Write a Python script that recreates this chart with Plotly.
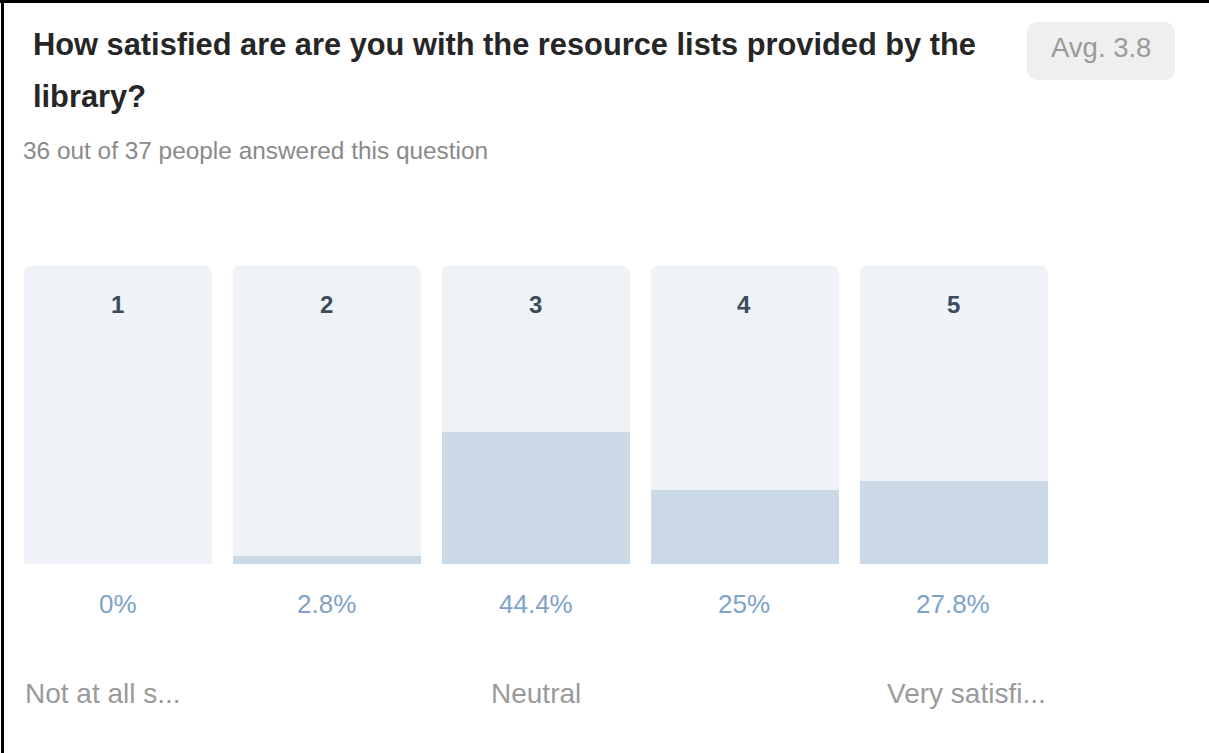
import plotly.graph_objects as go

categories = ["1", "2", "3", "4", "5"]
percents = [0, 2.8, 44.4, 25, 27.8]
percent_labels = ["0%", "2.8%", "44.4%", "25%", "27.8%"]
scale_labels = ["Not at all s...", "Neutral", "Very satisfi..."]
title_lines = ["How satisfied are are you with the resource lists provided by the", "library?"]
subtitle = "36 out of 37 people answered this question"
avg_text = "Avg. 3.8"
track_max = [100] * len(categories)

W, H = 1209, 753
FONT = "'Liberation Sans', Arial, sans-serif"

fig = go.Figure()
fig.add_trace(go.Bar(x=categories, y=track_max, marker=dict(color="#eff3f8", cornerradius=6, line=dict(width=0)),
                     width=0.9, hoverinfo="skip", showlegend=False))
fig.add_trace(go.Bar(x=categories, y=percents, marker=dict(color="#cbd9e7", cornerradius=4, line=dict(width=0)),
                     width=0.9, hoverinfo="skip", showlegend=False))


def px_x(p):
    return p / W


def py(p):
    return 1 - p / H


annotations = []
for i, c in enumerate(categories):
    annotations.append(dict(x=i, y=py(304), xref="x", yref="paper", text="<b>" + c + "</b>", showarrow=False,
                            font=dict(family=FONT, size=24, color="#3d4b5c"), xanchor="center", yanchor="middle"))
    annotations.append(dict(x=i, y=py(604), xref="x", yref="paper", text=percent_labels[i], showarrow=False,
                            font=dict(family=FONT, size=26, color="#7ea3c8"), xanchor="center", yanchor="middle"))

annotations += [
    dict(x=px_x(23), y=py(693), xref="paper", yref="paper", text=scale_labels[0], showarrow=False,
         font=dict(family=FONT, size=28, color="#9a9a9a"), xanchor="left", yanchor="middle"),
    dict(x=2, y=py(693), xref="x", yref="paper", text=scale_labels[1], showarrow=False,
         font=dict(family=FONT, size=28, color="#9a9a9a"), xanchor="center", yanchor="middle"),
    dict(x=px_x(1048), y=py(693), xref="paper", yref="paper", text=scale_labels[2], showarrow=False,
         font=dict(family=FONT, size=28, color="#9a9a9a"), xanchor="right", yanchor="middle"),
    dict(x=px_x(31), y=py(45), xref="paper", yref="paper", text="<b>" + title_lines[0] + "</b>", showarrow=False,
         font=dict(family=FONT, size=30.8, color="#262627"), xanchor="left", yanchor="middle"),
    dict(x=px_x(31), y=py(96), xref="paper", yref="paper", text="<b>" + title_lines[1] + "</b>", showarrow=False,
         font=dict(family=FONT, size=30.8, color="#262627"), xanchor="left", yanchor="middle"),
    dict(x=px_x(21), y=py(150), xref="paper", yref="paper", text=subtitle, showarrow=False,
         font=dict(family=FONT, size=24.4, color="#8a8a8a"), xanchor="left", yanchor="middle"),
    dict(x=px_x(1101), y=py(48), xref="paper", yref="paper", text=avg_text, showarrow=False,
         font=dict(family=FONT, size=27.5, color="#9a9a9a"), xanchor="center", yanchor="middle"),
]


def rounded_rect(x0, y0, x1, y1, r):
    X = lambda v: f"{px_x(v):.5f}"
    Y = lambda v: f"{py(v):.5f}"
    return (f"M {X(x0 + r)},{Y(y0)} L {X(x1 - r)},{Y(y0)} Q {X(x1)},{Y(y0)} {X(x1)},{Y(y0 + r)} "
            f"L {X(x1)},{Y(y1 - r)} Q {X(x1)},{Y(y1)} {X(x1 - r)},{Y(y1)} "
            f"L {X(x0 + r)},{Y(y1)} Q {X(x0)},{Y(y1)} {X(x0)},{Y(y1 - r)} "
            f"L {X(x0)},{Y(y0 + r)} Q {X(x0)},{Y(y0)} {X(x0 + r)},{Y(y0)} Z")


shapes = [
    dict(type="path", xref="paper", yref="paper", path=rounded_rect(1027, 22, 1175, 80, 12),
         fillcolor="#efefef", line=dict(width=0), layer="below"),
    dict(type="line", xref="paper", yref="paper", x0=px_x(2.5), x1=px_x(2.5), y0=0, y1=1,
         line=dict(color="black", width=3)),
    dict(type="line", xref="paper", yref="paper", x0=0, x1=1, y0=py(1.5), y1=py(1.5),
         line=dict(color="black", width=3)),
]

fig.update_layout(
    width=W, height=H, margin=dict(l=0, r=0, t=0, b=0),
    paper_bgcolor="white", plot_bgcolor="white",
    barmode="overlay", bargap=0,
    xaxis=dict(type="category", domain=[13.5 / W, 1057.5 / W], range=[-0.5, 4.5], visible=False, fixedrange=True),
    yaxis=dict(domain=[py(564), py(266)], range=[0, 100], visible=False, fixedrange=True),
    annotations=annotations, shapes=shapes,
)

fig.write_html("out.html", config={"displayModeBar": False},
               post_script="document.body.style.margin='0';document.body.style.overflow='hidden';")
